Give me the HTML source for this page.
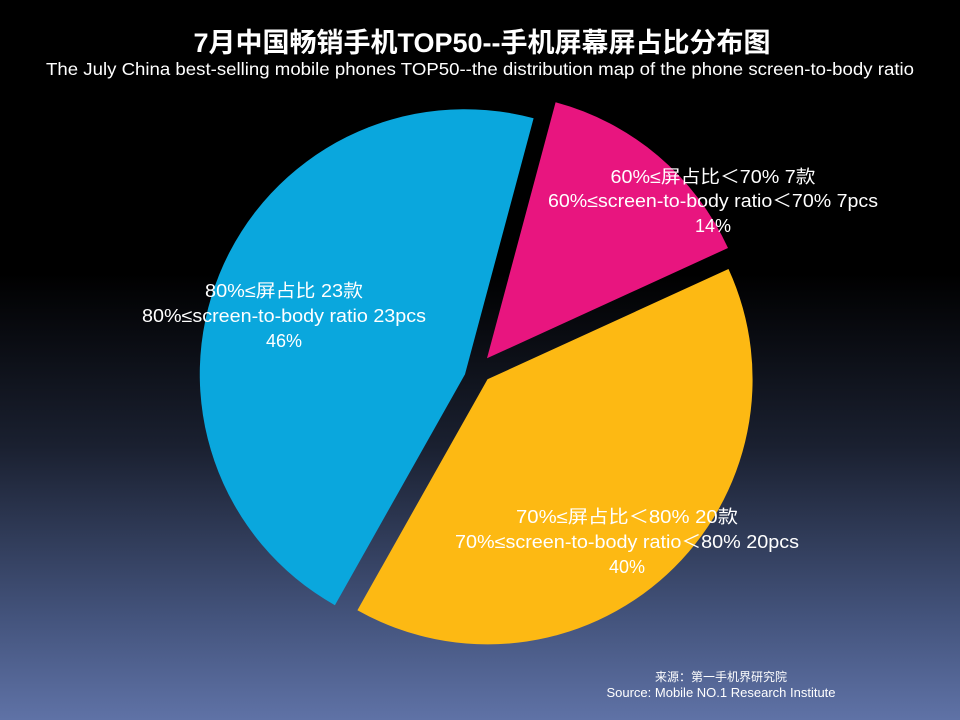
<!DOCTYPE html>
<html><head><meta charset="utf-8"><style>
body{margin:0;width:960px;height:720px;overflow:hidden;background:linear-gradient(to bottom,#000 0%,#000 38%,#1a2030 62%,#44547d 86%,#5f72a6 100%);font-family:"Liberation Sans","Noto Sans CJK SC",sans-serif;}
</style></head><body>
<svg width="960" height="720" xmlns="http://www.w3.org/2000/svg" style="position:absolute;left:0;top:0">
<path d="M487,358.3 L555.6,102.3 A265,265 0 0 1 728,248 Z" fill="#e8157f"/>
<path d="M487.5,379.3 L728.5,269 A265,265 0 0 1 357.4,610.2 Z" fill="#fdb913"/>
<path d="M465,374.3 L334.9,605.2 A265,265 0 0 1 533.6,118.3 Z" fill="#0aa7dd"/>
<g font-family="Liberation Sans, Noto Sans CJK SC, sans-serif" fill="#fff" text-anchor="middle">
<text x="482" y="52" font-size="27" font-weight="bold">7月中国畅销手机TOP50--手机屏幕屏占比分布图</text>
<text x="480" y="75" font-size="17.5" textLength="868" lengthAdjust="spacingAndGlyphs">The July China best-selling mobile phones TOP50--the distribution map of the phone screen-to-body ratio</text>
<g font-size="18">
<text x="713" y="183" textLength="205" lengthAdjust="spacingAndGlyphs">60%≤屏占比＜70% 7款</text>
<text x="713" y="207" textLength="330" lengthAdjust="spacingAndGlyphs">60%≤screen-to-body ratio＜70% 7pcs</text>
<text x="713" y="232">14%</text>
<text x="284" y="297" textLength="158" lengthAdjust="spacingAndGlyphs">80%≤屏占比 23款</text>
<text x="284" y="322" textLength="284" lengthAdjust="spacingAndGlyphs">80%≤screen-to-body ratio 23pcs</text>
<text x="284" y="347">46%</text>
<text x="627" y="523" textLength="222" lengthAdjust="spacingAndGlyphs">70%≤屏占比＜80% 20款</text>
<text x="627" y="548" textLength="344" lengthAdjust="spacingAndGlyphs">70%≤screen-to-body ratio＜80% 20pcs</text>
<text x="627" y="573">40%</text>
</g>
<text x="721" y="681" font-size="12">来源：第一手机界研究院</text>
<text x="721" y="697" font-size="13">Source: Mobile NO.1 Research Institute</text>
</g>
</svg>
</body></html>
